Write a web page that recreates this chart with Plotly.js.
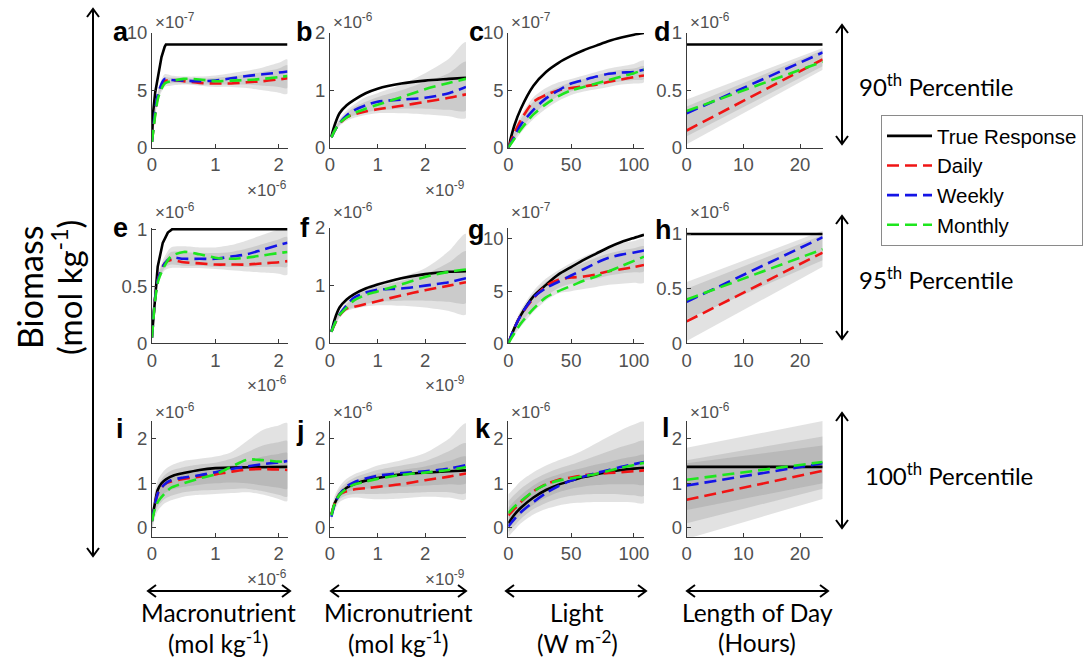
<!DOCTYPE html>
<html>
<head>
<meta charset="utf-8">
<script src="https://cdn.plot.ly/plotly-3.0.1.min.js"></script>
<style>html,body{margin:0;padding:0;background:#fff;}#chart{width:1087px;height:659px;}</style>
</head>
<body>
<div id="chart"></div>
<script>
// ---------- x sample points (display units) ----------
const macroX = [0, 0.05, 0.1, 0.2, 0.3, 0.5, 0.75, 1.0, 1.25, 1.5, 1.75, 2.0, 2.14];   // x10^-6 mol/kg
const microX = [0.03, 0.1, 0.2, 0.35, 0.5, 0.75, 1.0, 1.5, 2.0, 2.5, 2.86];            // x10^-9 mol/kg
const lightX = [0, 5, 10, 20, 30, 40, 50, 60, 70, 80, 90, 100, 108];                   // W m-2
const dayX = [0, 24];                                                                  // hours

// ---------- 90th percentile ----------
const aTrueX = [0.005, 0.02, 0.05, 0.1, 0.15, 0.2, 0.22, 2.14];
const aTrue = [1.5, 3.2, 4.8, 6.4, 7.9, 8.8, 9.0, 9.0];                 // x10^-7
const aDaily = [0.5, 3.0, 4.6, 5.8, 5.9, 5.8, 5.65, 5.6, 5.6, 5.7, 5.8, 5.95, 6.05];
const aWeekly = [0.5, 3.2, 4.8, 6.0, 5.9, 5.85, 5.8, 5.85, 6.05, 6.25, 6.4, 6.55, 6.65];
const aMonthly = [0.5, 2.8, 4.4, 5.6, 5.8, 6.0, 5.95, 5.8, 5.85, 5.9, 6.0, 6.15, 6.25];
const aOuterLo = [0.3, 2.6, 4.2, 5.3, 5.4, 5.5, 5.4, 5.3, 5.3, 5.2, 5.0, 4.8, 4.7];
const aOuterHi = [0.8, 3.5, 5.1, 6.4, 6.3, 6.2, 6.2, 6.3, 6.5, 6.7, 7.0, 7.4, 7.7];
const aInnerLo = [0.4, 2.8, 4.4, 5.5, 5.6, 5.6, 5.5, 5.5, 5.5, 5.5, 5.4, 5.3, 5.2];
const aInnerHi = [0.7, 3.3, 4.9, 6.1, 6.1, 6.1, 6.0, 6.1, 6.2, 6.4, 6.6, 6.9, 7.2];

const bTrue = [0.2, 0.4, 0.6, 0.74, 0.83, 0.95, 1.03, 1.12, 1.17, 1.2, 1.22];       // x10^-6
const bDaily = [0.18, 0.3, 0.42, 0.53, 0.58, 0.63, 0.67, 0.73, 0.8, 0.87, 0.93];
const bWeekly = [0.18, 0.3, 0.43, 0.56, 0.65, 0.74, 0.8, 0.84, 0.87, 0.95, 1.06];
const bMonthly = [0.18, 0.3, 0.43, 0.53, 0.6, 0.68, 0.75, 0.88, 1.02, 1.13, 1.2];
const bOuterLo = [0.15, 0.26, 0.38, 0.47, 0.52, 0.57, 0.6, 0.6, 0.58, 0.55, 0.52];
const bOuterHi = [0.22, 0.36, 0.5, 0.65, 0.75, 0.88, 0.95, 1.1, 1.3, 1.55, 1.84];
const bInnerLo = [0.16, 0.28, 0.4, 0.5, 0.56, 0.62, 0.65, 0.68, 0.68, 0.66, 0.65];
const bInnerHi = [0.2, 0.33, 0.47, 0.6, 0.7, 0.8, 0.88, 1.0, 1.15, 1.3, 1.5];

const cTrue = [0, 2.0, 3.4, 5.4, 6.6, 7.4, 8.0, 8.5, 8.9, 9.3, 9.6, 9.85, 10.0];     // x10^-7
const cDaily = [0, 1.3, 2.4, 4.0, 4.6, 5.0, 5.2, 5.35, 5.5, 5.75, 5.95, 6.15, 6.3];
const cWeekly = [0, 1.0, 2.0, 3.3, 4.3, 5.0, 5.6, 5.9, 6.2, 6.45, 6.55, 6.6, 6.8];
const cMonthly = [0, 0.8, 1.6, 2.9, 3.8, 4.5, 5.0, 5.3, 5.6, 5.9, 6.2, 6.5, 6.8];
const cOuterLo = [0, 0.6, 1.3, 2.5, 3.4, 4.1, 4.6, 4.9, 5.1, 5.3, 5.5, 5.6, 5.7];
const cOuterHi = [0.3, 1.7, 2.8, 4.4, 5.2, 5.7, 6.0, 6.3, 6.6, 6.9, 7.1, 7.3, 7.6];
const cInnerLo = [0, 0.8, 1.6, 2.9, 3.8, 4.5, 4.9, 5.2, 5.4, 5.6, 5.8, 5.9, 6.0];
const cInnerHi = [0.2, 1.4, 2.5, 4.0, 4.8, 5.3, 5.7, 6.0, 6.3, 6.6, 6.8, 6.9, 7.1];

const dTrue = [0.9, 0.9];                                                           // x10^-6
const dDaily = [0.15, 0.77];
const dWeekly = [0.3, 0.83];
const dMonthly = [0.32, 0.75];
const dOuterLo = [0.03, 0.68];
const dOuterHi = [0.42, 0.87];
const dInnerLo = [0.1, 0.71];
const dInnerHi = [0.36, 0.85];

// ---------- 95th percentile ----------
const eTrueX = [0.005, 0.04, 0.09, 0.17, 0.25, 0.32, 2.14];
const eTrue = [0.1, 0.33, 0.67, 0.88, 0.97, 1.0, 1.0];                               // x10^-6
const eDaily = [0.05, 0.4, 0.57, 0.7, 0.73, 0.71, 0.7, 0.69, 0.69, 0.69, 0.7, 0.71, 0.72];
const eWeekly = [0.05, 0.4, 0.57, 0.7, 0.75, 0.74, 0.74, 0.74, 0.76, 0.78, 0.82, 0.86, 0.88];
const eMonthly = [0.05, 0.38, 0.55, 0.68, 0.76, 0.8, 0.78, 0.75, 0.74, 0.75, 0.77, 0.79, 0.8];
const eOuterLo = [0.02, 0.35, 0.52, 0.64, 0.66, 0.66, 0.66, 0.65, 0.64, 0.63, 0.62, 0.61, 0.6];
const eOuterHi = [0.1, 0.45, 0.62, 0.76, 0.84, 0.85, 0.84, 0.84, 0.86, 0.9, 0.95, 1.0, 1.02];
const eInnerLo = [0.03, 0.37, 0.54, 0.66, 0.69, 0.68, 0.68, 0.67, 0.67, 0.67, 0.67, 0.67, 0.67];
const eInnerHi = [0.08, 0.43, 0.6, 0.73, 0.8, 0.8, 0.79, 0.79, 0.8, 0.83, 0.87, 0.91, 0.93];

const fTrue = [0.2, 0.42, 0.62, 0.76, 0.85, 0.95, 1.02, 1.13, 1.2, 1.24, 1.25];     // x10^-6
const fDaily = [0.2, 0.33, 0.48, 0.6, 0.63, 0.68, 0.73, 0.83, 0.92, 1.0, 1.06];
const fWeekly = [0.2, 0.35, 0.5, 0.66, 0.79, 0.88, 0.93, 0.95, 1.0, 1.06, 1.13];
const fMonthly = [0.2, 0.34, 0.49, 0.62, 0.74, 0.84, 0.9, 1.02, 1.15, 1.24, 1.28];
const fOuterLo = [0.17, 0.3, 0.44, 0.56, 0.6, 0.64, 0.66, 0.65, 0.62, 0.56, 0.5];
const fOuterHi = [0.23, 0.4, 0.56, 0.72, 0.86, 0.98, 1.05, 1.15, 1.3, 1.6, 1.9];
const fInnerLo = [0.18, 0.32, 0.46, 0.58, 0.62, 0.68, 0.72, 0.74, 0.74, 0.72, 0.7];
const fInnerHi = [0.22, 0.38, 0.53, 0.68, 0.8, 0.92, 0.98, 1.08, 1.2, 1.4, 1.6];

const gTrue = [0, 1.5, 2.7, 4.5, 5.6, 6.6, 7.3, 8.0, 8.6, 9.2, 9.7, 10.1, 10.4];     // x10^-7
const gDaily = [0, 1.5, 2.7, 4.3, 5.5, 6.1, 6.3, 6.4, 6.6, 6.9, 7.1, 7.3, 7.5];
const gWeekly = [0, 1.5, 2.7, 4.4, 5.3, 5.9, 6.5, 7.1, 7.7, 8.2, 8.5, 8.7, 8.9];
const gMonthly = [0, 1.0, 1.9, 3.3, 4.4, 5.0, 5.5, 6.0, 6.4, 6.9, 7.4, 7.9, 8.3];
const gOuterLo = [0, 0.8, 1.6, 3.0, 4.1, 4.8, 5.0, 5.2, 5.4, 5.6, 5.7, 5.8, 5.8];
const gOuterHi = [0.3, 1.9, 3.2, 5.0, 6.2, 7.0, 7.7, 8.3, 8.8, 9.3, 9.6, 9.8, 10.0];
const gInnerLo = [0, 1.0, 1.9, 3.4, 4.5, 5.3, 5.7, 6.0, 6.2, 6.5, 6.7, 6.8, 6.9];
const gInnerHi = [0.2, 1.7, 3.0, 4.7, 5.9, 6.6, 7.2, 7.7, 8.2, 8.6, 8.9, 9.1, 9.3];

const hTrue = [1.0, 1.0];                                                           // x10^-6
const hDaily = [0.2, 0.83];
const hWeekly = [0.38, 0.97];
const hMonthly = [0.4, 0.86];
const hOuterLo = [0.02, 0.7];
const hOuterHi = [0.56, 1.03];
const hInnerLo = [0.22, 0.76];
const hInnerHi = [0.5, 0.99];

// ---------- 100th percentile ----------
const iTrueX = [0.005, 0.04, 0.09, 0.15, 0.22, 0.35, 0.5, 0.75, 1.0, 1.5, 2.14];
const iTrue = [0.25, 0.5, 0.85, 1.0, 1.09, 1.18, 1.23, 1.3, 1.34, 1.36, 1.37];     // x10^-6
const iDaily = [0.15, 0.55, 0.8, 0.98, 1.04, 1.1, 1.15, 1.2, 1.26, 1.31, 1.32, 1.31, 1.3];
const iWeekly = [0.15, 0.55, 0.8, 0.98, 1.07, 1.13, 1.18, 1.25, 1.32, 1.38, 1.43, 1.47, 1.5];
const iMonthly = [0.15, 0.45, 0.6, 0.77, 0.9, 1.0, 1.11, 1.2, 1.37, 1.53, 1.52, 1.49, 1.48];
const iOuterLo = [-0.1, 0.25, 0.4, 0.55, 0.62, 0.7, 0.74, 0.76, 0.78, 0.8, 0.75, 0.65, 0.6];
const iOuterHi = [0.4, 0.85, 1.1, 1.3, 1.4, 1.5, 1.55, 1.6, 1.7, 1.95, 2.2, 2.3, 2.35];
const iMidLo = [0.0, 0.35, 0.5, 0.65, 0.72, 0.8, 0.84, 0.85, 0.87, 0.88, 0.82, 0.74, 0.7];
const iMidHi = [0.3, 0.75, 0.98, 1.18, 1.28, 1.36, 1.42, 1.46, 1.55, 1.7, 1.85, 1.92, 1.95];
const iInnerLo = [0.05, 0.45, 0.62, 0.78, 0.85, 0.92, 0.97, 1.0, 1.02, 1.0, 0.95, 0.9, 0.88];
const iInnerHi = [0.25, 0.65, 0.9, 1.08, 1.17, 1.25, 1.3, 1.35, 1.4, 1.48, 1.6, 1.66, 1.68];

const jTrue = [0.3, 0.55, 0.75, 0.9, 0.98, 1.06, 1.12, 1.2, 1.24, 1.27, 1.29];     // x10^-6
const jDaily = [0.3, 0.55, 0.75, 0.82, 0.86, 0.89, 0.92, 0.98, 1.07, 1.15, 1.22];
const jWeekly = [0.25, 0.53, 0.75, 0.93, 1.02, 1.11, 1.17, 1.23, 1.27, 1.33, 1.41];
const jMonthly = [0.28, 0.55, 0.74, 0.88, 0.97, 1.04, 1.1, 1.19, 1.24, 1.3, 1.36];
const jOuterLo = [0.15, 0.4, 0.58, 0.66, 0.68, 0.66, 0.64, 0.66, 0.7, 0.68, 0.65];
const jOuterHi = [0.45, 0.72, 0.93, 1.1, 1.2, 1.3, 1.4, 1.52, 1.68, 2.0, 2.35];
const jMidLo = [0.2, 0.45, 0.64, 0.73, 0.76, 0.76, 0.76, 0.78, 0.8, 0.8, 0.78];
const jMidHi = [0.4, 0.65, 0.86, 1.02, 1.12, 1.22, 1.3, 1.4, 1.5, 1.72, 1.9];
const jInnerLo = [0.22, 0.5, 0.68, 0.8, 0.85, 0.88, 0.9, 0.92, 0.95, 0.98, 1.0];
const jInnerHi = [0.35, 0.6, 0.8, 0.96, 1.05, 1.15, 1.22, 1.3, 1.38, 1.5, 1.6];

const kTrue = [0.1, 0.3, 0.45, 0.68, 0.85, 0.97, 1.06, 1.14, 1.2, 1.26, 1.3, 1.33, 1.35];   // x10^-6
const kDaily = [0.28, 0.43, 0.58, 0.82, 0.98, 1.08, 1.13, 1.18, 1.21, 1.23, 1.25, 1.27, 1.29];
const kWeekly = [0.03, 0.2, 0.35, 0.58, 0.78, 0.94, 1.06, 1.15, 1.23, 1.3, 1.37, 1.43, 1.48];
const kMonthly = [0.33, 0.48, 0.6, 0.82, 0.97, 1.06, 1.11, 1.16, 1.21, 1.28, 1.35, 1.41, 1.46];
const kOuterLo = [-0.2, -0.05, 0.1, 0.3, 0.42, 0.5, 0.55, 0.57, 0.58, 0.58, 0.58, 0.57, 0.56];
const kOuterHi = [0.75, 0.9, 1.05, 1.25, 1.4, 1.52, 1.62, 1.75, 1.9, 2.05, 2.2, 2.32, 2.38];
const kMidLo = [-0.1, 0.05, 0.2, 0.42, 0.56, 0.66, 0.72, 0.75, 0.76, 0.76, 0.75, 0.73, 0.72];
const kMidHi = [0.6, 0.75, 0.88, 1.08, 1.22, 1.33, 1.42, 1.52, 1.62, 1.72, 1.82, 1.9, 1.95];
const kInnerLo = [0.0, 0.15, 0.3, 0.52, 0.68, 0.8, 0.88, 0.93, 0.96, 0.98, 0.98, 0.98, 0.97];
const kInnerHi = [0.45, 0.6, 0.73, 0.95, 1.1, 1.2, 1.28, 1.35, 1.42, 1.48, 1.55, 1.6, 1.64];

const lTrue = [1.37, 1.37];                                                         // x10^-6
const lDaily = [0.63, 1.28];
const lWeekly = [0.95, 1.45];
const lMonthly = [1.08, 1.48];
const lOuterLo = [-0.25, 0.65];
const lOuterHi = [1.8, 2.4];
const lMidLo = [0.1, 0.88];
const lMidHi = [1.52, 2.05];
const lInnerLo = [0.4, 1.0];
const lInnerHi = [1.45, 1.85];

// ---------- labels ----------
const panelLetters = ['a','b','c','d','e','f','g','h','i','j','k','l'];
const seriesNames = ['True Response', 'Daily', 'Weekly', 'Monthly'];
const colTicks = [[0,1,2],[0,1,2],[0,50,100],[0,10,20]];
const xTitles = [['Macronutrient','(mol kg<sup>-1</sup>)'],['Micronutrient','(mol kg<sup>-1</sup>)'],['Light','(W m<sup>-2</sup>)'],['Length of Day','(Hours)']];
const percentileLabels = ['90<sup>th</sup> Percentile','95<sup>th</sup> Percentile','100<sup>th</sup> Percentile'];

// ---------- panel configuration (references the arrays above) ----------
const panels = [
  {x:macroX, tx:aTrueX, t:aTrue, d:aDaily, w:aWeekly, m:aMonthly, bands:[[aOuterLo,aOuterHi],[aInnerLo,aInnerHi]], yr:[0,10], yt:[0,5,10], ye:'-7', lin:true},
  {x:microX, tx:microX, t:bTrue, d:bDaily, w:bWeekly, m:bMonthly, bands:[[bOuterLo,bOuterHi],[bInnerLo,bInnerHi]], yr:[0,2], yt:[0,1,2], ye:'-6'},
  {x:lightX, tx:lightX, t:cTrue, d:cDaily, w:cWeekly, m:cMonthly, bands:[[cOuterLo,cOuterHi],[cInnerLo,cInnerHi]], yr:[0,10], yt:[0,5,10], ye:'-7'},
  {x:dayX, tx:dayX, t:dTrue, d:dDaily, w:dWeekly, m:dMonthly, bands:[[dOuterLo,dOuterHi],[dInnerLo,dInnerHi]], yr:[0,1], yt:[0,0.5,1], ye:'-6'},
  {x:macroX, tx:eTrueX, t:eTrue, d:eDaily, w:eWeekly, m:eMonthly, bands:[[eOuterLo,eOuterHi],[eInnerLo,eInnerHi]], yr:[0,1.01], yt:[0,0.5,1], ye:'-6', lin:true},
  {x:microX, tx:microX, t:fTrue, d:fDaily, w:fWeekly, m:fMonthly, bands:[[fOuterLo,fOuterHi],[fInnerLo,fInnerHi]], yr:[0,2], yt:[0,1,2], ye:'-6'},
  {x:lightX, tx:lightX, t:gTrue, d:gDaily, w:gWeekly, m:gMonthly, bands:[[gOuterLo,gOuterHi],[gInnerLo,gInnerHi]], yr:[0,11.05], yt:[0,5,10], ye:'-7'},
  {x:dayX, tx:dayX, t:hTrue, d:hDaily, w:hWeekly, m:hMonthly, bands:[[hOuterLo,hOuterHi],[hInnerLo,hInnerHi]], yr:[0,1.055], yt:[0,0.5,1], ye:'-6'},
  {x:macroX, tx:iTrueX, t:iTrue, d:iDaily, w:iWeekly, m:iMonthly, bands:[[iOuterLo,iOuterHi],[iMidLo,iMidHi],[iInnerLo,iInnerHi]], yr:[-0.2,2.4], yt:[0,1,2], ye:'-6'},
  {x:microX, tx:microX, t:jTrue, d:jDaily, w:jWeekly, m:jMonthly, bands:[[jOuterLo,jOuterHi],[jMidLo,jMidHi],[jInnerLo,jInnerHi]], yr:[-0.2,2.4], yt:[0,1,2], ye:'-6'},
  {x:lightX, tx:lightX, t:kTrue, d:kDaily, w:kWeekly, m:kMonthly, bands:[[kOuterLo,kOuterHi],[kMidLo,kMidHi],[kInnerLo,kInnerHi]], yr:[-0.2,2.4], yt:[0,1,2], ye:'-6'},
  {x:dayX, tx:dayX, t:lTrue, d:lDaily, w:lWeekly, m:lMonthly, bands:[[lOuterLo,lOuterHi],[lMidLo,lMidHi],[lInnerLo,lInnerHi]], yr:[-0.2,2.4], yt:[0,1,2], ye:'-6'}
];
const colXRange = [[0,2.14],[0,2.86],[0,108],[0,24]];
const colXExp = ['-6','-9',null,null];

// ---------- geometry (pixels) ----------
const W = 1087, H = 659;
const px = v => v / W;
const py = v => 1 - v / H;
const colPx = [[152,287.5],[330,466],[508.3,644],[686.7,822.7]];
const rowPx = [[33,147.7],[228,343.3],[421,536.7]];
const letterPos = [[121,32],[304,32],[476,32],[662,32],[120,228],[305,228],[476,230],[663,230],[120,429],[300,431],[483,429],[666,428]];
const rowYExp = [21, 211, 411];

const colors = {t:'#000000', d:'#f01414', w:'#1414e6', m:'#1ee61e'};
const dashPat = '12px,6px';
const axisCol = '#3a3a3a';
const tickFont = {family:'Liberation Sans, Arial, sans-serif', size:18.5, color:'#505050'};
const expFont = {family:'Liberation Sans, Arial, sans-serif', size:17, color:'#505050'};
const textFont = 'Lato, Open Sans, sans-serif';

const traces = [];
const layout = {
  width: W, height: H,
  margin: {l:0, r:0, t:0, b:0, autoexpand:false},
  paper_bgcolor: '#fff', plot_bgcolor: 'rgba(0,0,0,0)',
  showlegend: true,
  legend: {x: px(881), y: py(115), xanchor:'left', yanchor:'top', bgcolor:'#fff', bordercolor:'#8a8a8a', borderwidth:1,
           font:{family:'Liberation Sans, Arial, sans-serif', size:20.5, color:'#000'}, itemwidth:45, tracegroupgap:0},
  annotations: [], shapes: []
};

panels.forEach((p, k) => {
  const row = Math.floor(k / 4), col = k % 4;
  const n = k + 1;
  const xa = 'x' + (n === 1 ? '' : n), ya = 'y' + (n === 1 ? '' : n);
  const xk = 'xaxis' + (n === 1 ? '' : n), yk = 'yaxis' + (n === 1 ? '' : n);
  layout[xk] = {
    domain: [px(colPx[col][0]), px(colPx[col][1])], anchor: ya, range: colXRange[col],
    tickmode:'array', tickvals: colTicks[col], ticks:'inside', ticklen:4, tickcolor:axisCol,
    showline:true, linecolor:axisCol, linewidth:1, showgrid:false, zeroline:false, tickfont:tickFont, fixedrange:true
  };
  layout[yk] = {
    domain: [py(rowPx[row][1]), py(rowPx[row][0])], anchor: xa, range: p.yr,
    tickmode:'array', tickvals: p.yt, ticks:'inside', ticklen:4, tickcolor:axisCol,
    showline:true, linecolor:axisCol, linewidth:1, showgrid:false, zeroline:false, tickfont:tickFont, fixedrange:true
  };
  // bands
  p.bands.forEach(b => {
    traces.push({
      x: p.x.concat(p.x.slice().reverse()), y: b[1].concat(b[0].slice().reverse()),
      xaxis: xa, yaxis: ya, mode:'lines', fill:'toself', fillcolor:'rgba(120,120,120,0.21)',
      line:{width:0, shape: p.x.length > 2 ? 'spline' : 'linear', smoothing:0.8}, hoverinfo:'skip', showlegend:false
    });
  });
  // true response
  traces.push({x: p.tx, y: p.t, xaxis: xa, yaxis: ya, mode:'lines', name: seriesNames[0], legendgroup:'t', showlegend: k === 0,
    line:{color:colors.t, width:2.6, shape: p.lin || p.tx.length <= 2 ? 'linear' : 'spline', smoothing:0.8}});
  [['d', p.d, 1], ['w', p.w, 2], ['m', p.m, 3]].forEach(([key, ys, si]) => {
    traces.push({x: p.x, y: ys, xaxis: xa, yaxis: ya, mode:'lines', name: seriesNames[si], legendgroup:key, showlegend: k === 0,
      line:{color:colors[key], width:2.6, dash:dashPat, shape: p.x.length > 2 ? 'spline' : 'linear', smoothing:0.8}});
  });
  // panel letter
  layout.annotations.push({xref:'paper', yref:'paper', x: px(letterPos[k][0]), y: py(letterPos[k][1]), xanchor:'center', yanchor:'middle',
    text:'<b>' + panelLetters[k] + '</b>', showarrow:false, font:{family:'Liberation Sans, Arial, sans-serif', size:27, color:'#000'}});
  // y exponent
  layout.annotations.push({xref:'paper', yref:'paper', x: px(colPx[col][0] + 1), y: py(rowYExp[row]), xanchor:'left', yanchor:'middle',
    text:'\u00d710<sup>' + p.ye + '</sup>', showarrow:false, font:expFont});
  // x exponent
  if (colXExp[col]) {
    layout.annotations.push({xref:'paper', yref:'paper', x: px(colPx[col][1] + 1), y: py(rowPx[row][1] + 41), xanchor:'right', yanchor:'middle',
      text:'\u00d710<sup>' + colXExp[col] + '</sup>', showarrow:false, font:expFont});
  }
});

// ---------- decorative arrows ----------
function arrowV(x, y1, y2) {
  const s = {xref:'paper', yref:'paper', line:{color:'#000', width:2}};
  layout.shapes.push(Object.assign({type:'line', x0:px(x), x1:px(x), y0:py(y1), y1:py(y2)}, s));
  layout.shapes.push(Object.assign({type:'path', path:`M ${px(x-6)} ${py(y1+8)} L ${px(x)} ${py(y1)} L ${px(x+6)} ${py(y1+8)}`}, s));
  layout.shapes.push(Object.assign({type:'path', path:`M ${px(x-6)} ${py(y2-8)} L ${px(x)} ${py(y2)} L ${px(x+6)} ${py(y2-8)}`}, s));
}
function arrowH(y, x1, x2) {
  const s = {xref:'paper', yref:'paper', line:{color:'#000', width:2}};
  layout.shapes.push(Object.assign({type:'line', x0:px(x1), x1:px(x2), y0:py(y), y1:py(y)}, s));
  layout.shapes.push(Object.assign({type:'path', path:`M ${px(x1+8)} ${py(y-6)} L ${px(x1)} ${py(y)} L ${px(x1+8)} ${py(y+6)}`}, s));
  layout.shapes.push(Object.assign({type:'path', path:`M ${px(x2-8)} ${py(y-6)} L ${px(x2)} ${py(y)} L ${px(x2-8)} ${py(y+6)}`}, s));
}
arrowV(93, 9, 556);
arrowV(842, 25, 144);
arrowV(842, 216, 339);
arrowV(842, 413, 528);
arrowH(591, 148, 290);
arrowH(591, 331, 466);
arrowH(591, 506, 646);
arrowH(591, 687, 828);

// ---------- text labels ----------
layout.annotations.push({xref:'paper', yref:'paper', x:px(29), y:py(288), textangle:-90, xanchor:'center', yanchor:'middle',
  text:'Biomass', showarrow:false, font:{family:textFont, size:34, color:'#000'}});
layout.annotations.push({xref:'paper', yref:'paper', x:px(67), y:py(288), textangle:-90, xanchor:'center', yanchor:'middle',
  text:'(mol kg<sup>-1</sup>)', showarrow:false, font:{family:textFont, size:33, color:'#000'}});
const bottomCenters = [218, 398, 577, 757];
xTitles.forEach((t, c) => {
  layout.annotations.push({xref:'paper', yref:'paper', x:px(bottomCenters[c]), y:py(612), xanchor:'center', yanchor:'middle',
    text:t[0], showarrow:false, font:{family:textFont, size:24.5, color:'#000'}});
  layout.annotations.push({xref:'paper', yref:'paper', x:px(bottomCenters[c]), y:py(642), xanchor:'center', yanchor:'middle',
    text:t[1], showarrow:false, font:{family:textFont, size:24.5, color:'#000'}});
});
const pctPos = [[857,85],[857,278],[863,474]];
percentileLabels.forEach((t, r) => {
  layout.annotations.push({xref:'paper', yref:'paper', x:px(pctPos[r][0]), y:py(pctPos[r][1]), xanchor:'left', yanchor:'middle',
    text:t, showarrow:false, font:{family:textFont, size:24, color:'#000'}});
});

Plotly.newPlot('chart', traces, layout, {staticPlot:true, displayModeBar:false});
</script>
</body>
</html>
